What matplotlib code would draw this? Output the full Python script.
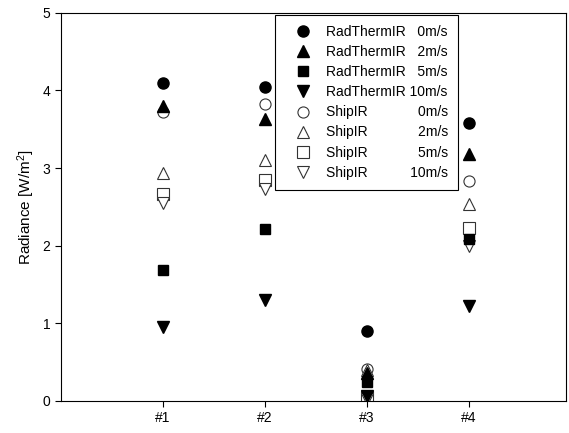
import matplotlib.pyplot as plt
import numpy as np

plt.rcParams['font.family'] = ['Liberation Sans', 'DejaVu Sans']
plt.rcParams['mathtext.fontset'] = 'custom'
plt.rcParams['mathtext.rm'] = 'Liberation Sans'
plt.rcParams['mathtext.it'] = 'Liberation Sans'

cases = ["#1", "#2", "#3", "#4"]
x = np.arange(1, 5)

# RadThermIR results
rt_0 = [4.10, 4.05, 0.90, 3.58]
rt_2 = [3.80, 3.63, 0.36, 3.18]
rt_5 = [1.69, 2.21, 0.24, 2.09]
rt_10 = [0.95, 1.30, 0.06, 1.22]

# ShipIR results
si_0 = [3.72, 3.83, 0.41, 2.83]
si_2 = [2.93, 3.10, 0.40, 2.53]
si_5 = [2.67, 2.84, 0.05, 2.23]
si_10 = [2.55, 2.73, 0.02, 2.00]

fig = plt.figure(figsize=(5.69, 4.33), dpi=100)
ax = fig.add_axes([0.107, 0.075, 0.888, 0.895])

ms = 8
# open markers first, filled ones on top
open_kw = dict(linestyle='none', markerfacecolor='white', markeredgecolor='#333333',
               markeredgewidth=0.8, markersize=ms, zorder=2)
filled_kw = dict(linestyle='none', color='black', markersize=ms, zorder=3)

h_si0, = ax.plot(x, si_0, marker='o', **open_kw)
h_si2, = ax.plot(x, si_2, marker='^', **open_kw)
h_si5, = ax.plot(x, si_5, marker='s', **open_kw)
h_si10, = ax.plot(x, si_10, marker='v', **open_kw)

h_rt0, = ax.plot(x, rt_0, marker='o', **filled_kw)
h_rt2, = ax.plot(x, rt_2, marker='^', **filled_kw)
h_rt5, = ax.plot(x, rt_5, marker='s', markersize=ms - 1, linestyle='none', color='black', zorder=3)
h_rt10, = ax.plot(x, rt_10, marker='v', **filled_kw)

handles = [h_rt0, h_rt2, h_rt5, h_rt10, h_si0, h_si2, h_si5, h_si10]
# spaces pad the speed to a right aligned column (2 spaces ~ 1 digit)
labels = ["RadThermIR   0m/s", "RadThermIR   2m/s", "RadThermIR   5m/s", "RadThermIR 10m/s",
          "ShipIR" + " " * 13 + "0m/s", "ShipIR" + " " * 13 + "2m/s",
          "ShipIR" + " " * 13 + "5m/s", "ShipIR" + " " * 11 + "10m/s"]

leg = ax.legend(handles, labels, loc='upper left', bbox_to_anchor=(0.424, 0.995),
                borderaxespad=0, fancybox=False, framealpha=1, edgecolor='black',
                fontsize=10, labelspacing=0.44, handlelength=2.6, handletextpad=0.35,
                borderpad=0.72, numpoints=1)
leg.get_frame().set_linewidth(0.8)

ax.set_xlim(0, 4.95)
ax.set_ylim(0, 5)
ax.set_xticks(x)
ax.set_xticklabels(cases)
ax.set_yticks(range(6))
ax.tick_params(direction='out', length=4, width=0.8, labelsize=10)
ax.set_ylabel(r"Radiance [W/m$^2$]", fontsize=11)

plt.savefig("out.png", dpi=100)
